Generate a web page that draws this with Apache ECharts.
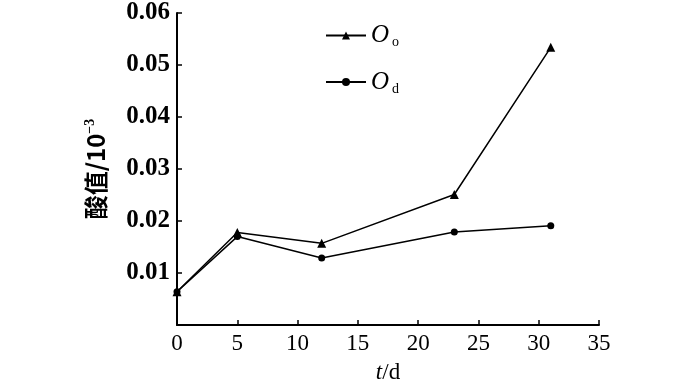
<!DOCTYPE html>
<html><head><meta charset="utf-8">
<script src="https://cdn.jsdelivr.net/npm/echarts@6/dist/echarts.min.js"></script>
<style>html,body{margin:0;padding:0;background:#fff}#c{width:700px;height:382px}</style>
</head><body><div id="c"></div>
<script>
const days = [0, 5, 12, 23, 31];
const seriesOo = [0.0064, 0.0178, 0.0157, 0.0251, 0.0534];
const seriesOd = [0.0064, 0.0170, 0.0129, 0.0179, 0.0191];
const seriesNames = ['Oo', 'Od'];

const chart = echarts.init(document.getElementById('c'));
const serif = '"Liberation Serif","Times New Roman",serif';
chart.setOption({
  backgroundColor: '#fff',
  animation: false,
  grid: {left: 177, right: 101, top: 13, bottom: 57, containLabel: false, outerBoundsMode: 'none'},
  legend: {
    orient: 'vertical', left: 320, top: 18, itemGap: 20, itemWidth: 40, itemHeight: 10,
    data: seriesNames,
    formatter: n => n === 'Oo' ? '{o|O}{s|o}' : '{o|O}{s|d}',
    textStyle: {
      color: '#000',
      rich: {
        o: {fontFamily: serif, fontStyle: 'italic', fontSize: 25, color: '#000'},
        s: {fontFamily: serif, fontSize: 14, color: '#000', verticalAlign: 'bottom', padding: [14, 0, 0, 3]}
      }
    }
  },
  xAxis: {
    type: 'value', min: 0, max: 35, interval: 5,
    name: '{i|t}/d', nameLocation: 'middle', nameGap: 36,
    nameTextStyle: {fontFamily: serif, fontSize: 23, color: '#000',
      rich: {i: {fontFamily: serif, fontStyle: 'italic', fontSize: 23, color: '#000'}}},
    axisLine: {lineStyle: {color: '#000', width: 2}},
    axisTick: {inside: true, length: 5, lineStyle: {color: '#000', width: 1.5}},
    axisLabel: {fontFamily: serif, fontSize: 23, color: '#000', margin: 7},
    splitLine: {show: false}
  },
  yAxis: {
    type: 'value', min: 0, max: 0.06, interval: 0.01,
    name: '酸值/10{sup|−3}', nameLocation: 'middle', nameGap: 68, nameRotate: 90,
    nameTextStyle: {fontFamily: '"Noto Sans CJK SC",' + serif, fontSize: 24, fontWeight: 'bold', color: '#000',
      rich: {sup: {fontFamily: serif, fontSize: 14, color: '#000', verticalAlign: 'top', padding: [0, 0, 12, 0]}}},
    axisLine: {show: true, lineStyle: {color: '#000', width: 2}},
    axisTick: {show: true, inside: true, length: 5, lineStyle: {color: '#000', width: 1.5}},
    axisLabel: {fontFamily: serif, fontSize: 25, fontWeight: 'bold', color: '#000', margin: 7,
      formatter: v => v === 0 ? '' : v.toFixed(2)},
    splitLine: {show: false}
  },
  series: [
    {name: seriesNames[0], type: 'line', data: days.map((d, i) => [d, seriesOo[i]]),
     symbol: 'triangle', symbolSize: 9, lineStyle: {color: '#000', width: 1.5},
     itemStyle: {color: '#000'}},
    {name: seriesNames[1], type: 'line', data: days.map((d, i) => [d, seriesOd[i]]),
     symbol: 'circle', symbolSize: 7, lineStyle: {color: '#000', width: 1.5},
     itemStyle: {color: '#000'}}
  ]
});
</script></body></html>
